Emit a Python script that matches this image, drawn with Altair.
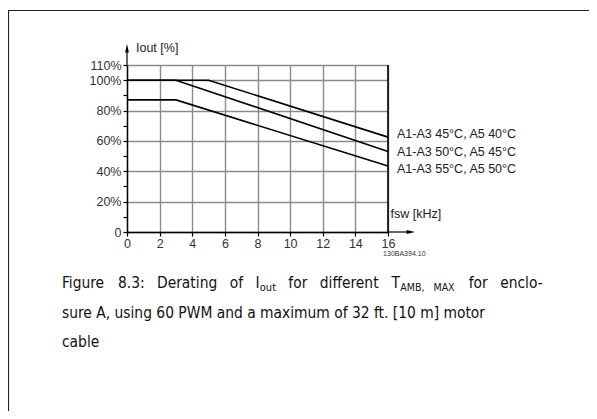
import altair as alt
import pandas as pd

# ---- data ----
series_names = ["A1-A3 45°C, A5 40°C", "A1-A3 50°C, A5 45°C", "A1-A3 55°C, A5 50°C"]
series_fsw = [[0, 5, 16], [0, 3, 16], [0, 3, 16]]
series_iout = [[100, 100, 62.5], [100, 100, 53], [87, 87, 43.5]]
x_ticks = [0, 2, 4, 6, 8, 10, 12, 14, 16]
y_ticks = [0, 10, 20, 30, 40, 50, 60, 70, 80, 90, 100, 110]
x_title = "fsw [kHz]"
y_title = "Iout [%]"
drawing_code = "130BA394.10"

rows = []
for name, xs_, ys_ in zip(series_names, series_fsw, series_iout):
    for x, y in zip(xs_, ys_):
        rows.append({"series": name, "fsw": x, "iout": y})
lines_df = pd.DataFrame(rows)
ends_df = lines_df.groupby("series", sort=False).last().reset_index()

FONT = "Liberation Sans"
LSIZE = 12.5
W, H = 261, 167
PAD_L, PAD_T = 119, 57
TOTAL_W, TOTAL_H = 581, 403
PX_PER_UNIT_Y = H / 110.0

# vertical spreading of the end labels (pixels, layout only)
label_nudge_px = [-3.5, 0.5, 3.5]
ends_df["label_y"] = [v - n / PX_PER_UNIT_Y for v, n in zip(ends_df["iout"], label_nudge_px)]

xs = alt.Scale(domain=[0, 16], nice=False)
ys = alt.Scale(domain=[0, 110], nice=False)

major_test = "datum.value % 20 == 0 || datum.value == 110"

X_AXIS = alt.Axis(values=x_ticks, title=None, grid=True, gridColor="#8a8a8a",
                  gridWidth=1.4, domainColor="black", domainWidth=1.4,
                  tickColor="black", tickSize=4, tickWidth=1.2,
                  labelColor="#333", labelFont=FONT, labelFontSize=LSIZE,
                  labelPadding=1, labelFlush=False, labelOverlap=False)
Y_AXIS = alt.Axis(values=y_ticks, title=None, grid=True, gridColor="#8a8a8a",
                  gridWidth=1.4,
                  gridOpacity={"condition": {"test": major_test, "value": 1}, "value": 0},
                  domainColor="black", domainWidth=1.4,
                  tickColor="black", tickSize=4, tickWidth=1.2,
                  labelExpr="datum.value == 0 ? '0' : ((datum.value % 20 == 0 || datum.value == 110) ? datum.value + '%' : '')",
                  labelColor="#333", labelFont=FONT, labelFontSize=LSIZE,
                  labelPadding=2, labelOverlap=False, labelFlush=False)


def X(field):
    return alt.X(field, scale=xs, axis=X_AXIS)


def Y(field):
    return alt.Y(field, scale=ys, axis=Y_AXIS)


lines = alt.Chart(lines_df).mark_line(color="black", strokeWidth=1.6).encode(
    x=X("fsw:Q"), y=Y("iout:Q"), detail="series:N")

# black vertical line at 16 kHz
right_rule = alt.Chart(pd.DataFrame({"x": [16], "y": [0], "y2": [110]})).mark_rule(
    color="black", strokeWidth=1.6).encode(x=X("x:Q"), y=Y("y:Q"), y2="y2:Q")

# axis extensions with arrows
y_ext = alt.Chart(pd.DataFrame({"x": [0], "y": [110], "y2": [121]})).mark_rule(
    color="black", strokeWidth=1.2).encode(x=X("x:Q"), y=Y("y:Q"), y2="y2:Q")
x_ext = alt.Chart(pd.DataFrame({"x": [16], "x2": [17.3], "y": [0]})).mark_rule(
    color="black", strokeWidth=1.2).encode(x=X("x:Q"), x2="x2:Q", y=Y("y:Q"))
up_arrow = alt.Chart(pd.DataFrame({"x": [0], "y": [121]})).mark_point(
    shape="M0,-1L0.45,1L-0.45,1Z", filled=True, color="black", size=70, opacity=1).encode(
    x=X("x:Q"), y=Y("y:Q"))
right_arrow = alt.Chart(pd.DataFrame({"x": [17.4], "y": [0]})).mark_point(
    shape="M1,0L-1,0.45L-1,-0.45Z", filled=True, color="black", size=70, opacity=1).encode(
    x=X("x:Q"), y=Y("y:Q"))

# axis titles
y_lab = alt.Chart(pd.DataFrame({"x": [0.55], "y": [121], "t": [y_title]})).mark_text(
    align="left", baseline="middle", font=FONT, fontSize=LSIZE, color="#222").encode(
    x=X("x:Q"), y=Y("y:Q"), text="t:N")
x_lab = alt.Chart(pd.DataFrame({"x": [16.15], "y": [12], "t": [x_title]})).mark_text(
    align="left", baseline="middle", font=FONT, fontSize=LSIZE, color="#222").encode(
    x=X("x:Q"), y=Y("y:Q"), text="t:N")
code_lab = alt.Chart(pd.DataFrame({"x": [15.7], "y": [-14.5], "t": [drawing_code]})).mark_text(
    align="left", baseline="middle", font=FONT, fontSize=7, color="#333").encode(
    x=X("x:Q"), y=Y("y:Q"), text="t:N")

# series labels at line ends
end_labels = alt.Chart(ends_df).mark_text(
    align="left", baseline="middle", dx=9, font=FONT, fontSize=LSIZE, color="#222").encode(
    x=X("fsw:Q"), y=Y("label_y:Q"), text="series:N")

# frame (top and left borders of the page panel)
frame_left = alt.Chart(pd.DataFrame({"a": [0]})).mark_rule(color="#222", strokeWidth=1.2).encode(
    x=alt.value(-118.5), y=alt.value(-55), y2=alt.value(TOTAL_H - PAD_T))
frame_top = alt.Chart(pd.DataFrame({"a": [0]})).mark_rule(color="#222", strokeWidth=1.2).encode(
    x=alt.value(-119), x2=alt.value(TOTAL_W - PAD_L), y=alt.value(-54.5))

# caption (justified first line, with subscripts)
CAP_FONT = "DejaVu Sans Condensed"
CSIZE = 15.4


def cap(text, px, py, size=CSIZE):
    return alt.Chart(pd.DataFrame({"t": [text]})).mark_text(
        align="left", baseline="alphabetic", font=CAP_FONT, fontSize=size, color="#111").encode(
        x=alt.value(px - 127), y=alt.value(py - 65), text="t:N")


caption = [
    cap("Figure", 62, 288),
    cap("8.3:", 118, 288),
    cap("Derating", 157, 288),
    cap("of", 229.8, 288),
    cap("I", 255.6, 288),
    cap("out", 259.8, 290.5, 11),
    cap("for", 288.3, 288),
    cap("different", 319.8, 288),
    cap("T", 391.6, 288),
    cap("AMB,", 400.3, 290.5, 10.5),
    cap("MAX", 433.5, 290.5, 10.5),
    cap("for", 468.7, 288),
    cap("enclo-", 500.2, 288),
    cap("sure A, using 60 PWM and a maximum of 32 ft. [10 m] motor", 62, 318),
    cap("cable", 62, 347),
]

chart = alt.layer(
    lines, right_rule, y_ext, x_ext, up_arrow, right_arrow, y_lab, x_lab, code_lab,
    end_labels, frame_left, frame_top, *caption
).properties(
    width=W, height=H,
    autosize=alt.AutoSizeParams(type="none"),
    padding={"left": PAD_L, "top": PAD_T, "right": TOTAL_W - PAD_L - W, "bottom": TOTAL_H - PAD_T - H},
    background="white",
).configure_view(stroke=None)

chart.save("out.html", embed_options={"renderer": "svg", "actions": False})
